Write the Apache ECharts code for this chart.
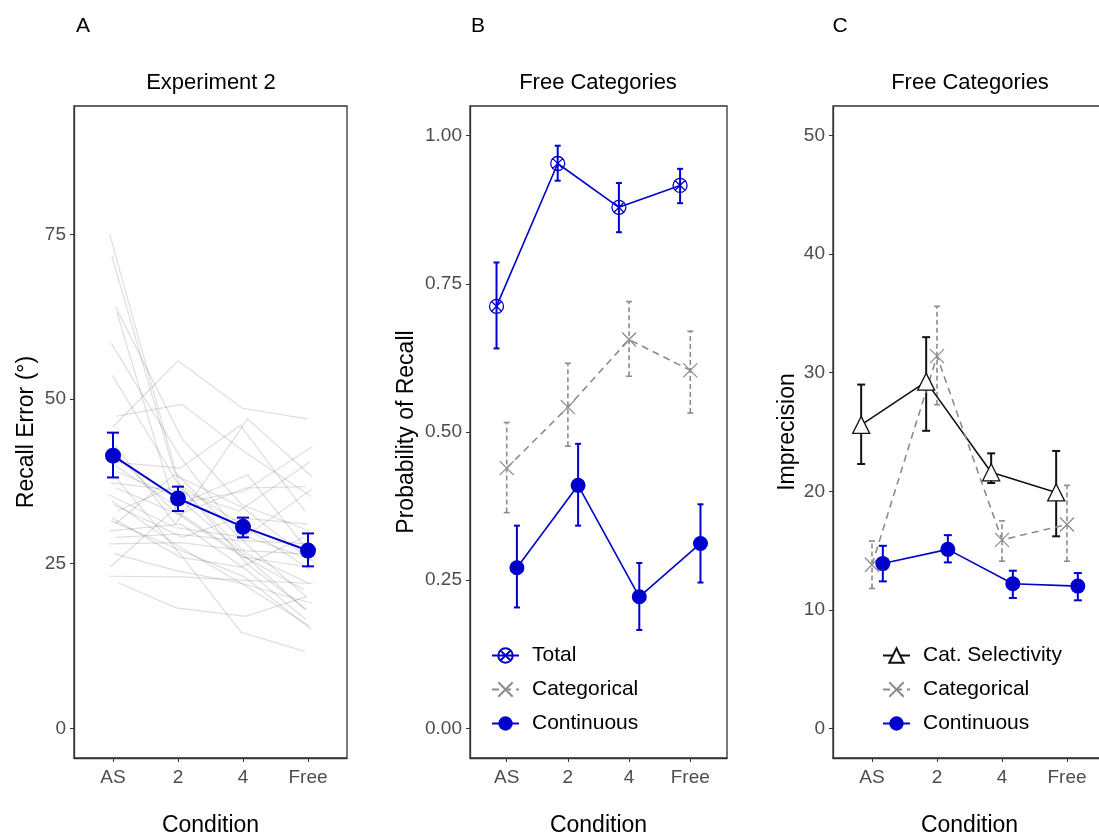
<!DOCTYPE html>
<html>
<head>
<meta charset="utf-8">
<script src="https://cdn.jsdelivr.net/npm/echarts@6.0.0/dist/echarts.min.js"></script>
<style>
  html, body { margin: 0; padding: 0; background: #fff; }
  #chart { width: 1099px; height: 840px; }
</style>
</head>
<body>
<div id="chart"></div>
<script>
  const conditions = ['AS', '2', '4', 'Free']

  // A: recall error per subject (AS, 2, 4, Free)
  const subjectError = [
    [75.0, 37.0, 31.0, 24.0], [71.8, 39.0, 28.0, 20.0], [64.0, 44.0, 34.0, 30.0],
    [63.2, 33.0, 26.0, 21.0], [58.5, 41.0, 29.5, 25.5], [53.6, 37.5, 25.0, 18.0],
    [45.8, 55.8, 48.6, 47.0], [47.4, 49.2, 42.0, 35.2], [43.0, 31.0, 47.0, 38.2],
    [40.5, 39.5, 46.0, 33.0], [40.0, 34.0, 36.0, 42.8], [37.3, 36.0, 33.0, 40.5],
    [36.5, 32.5, 36.5, 36.7], [35.5, 30.5, 29.0, 36.3], [34.0, 29.0, 32.0, 31.0],
    [33.0, 37.0, 26.5, 22.0], [32.0, 26.0, 24.5, 29.0], [31.0, 38.5, 33.5, 25.5],
    [30.0, 31.0, 24.0, 16.5], [29.0, 29.5, 28.5, 28.0], [28.0, 28.2, 27.0, 26.5],
    [26.5, 24.0, 22.0, 19.0], [24.5, 34.0, 38.5, 27.0], [23.1, 23.0, 22.5, 22.0],
    [22.1, 18.3, 17.0, 20.0], [38.0, 26.0, 14.6, 11.7], [34.5, 28.0, 21.5, 15.5],
    [39.0, 35.0, 27.0, 18.0], [31.5, 27.0, 23.0, 15.0], [42.0, 33.0, 26.0, 24.5]
  ]
  // horizontal jitter of each subject point (condition units)
  const subjectJitter = [
    [-0.05, 0.02, -0.03, 0.04], [-0.02, -0.06, 0.05, -0.03], [0.04, 0.06, -0.02, 0.01],
    [0.06, -0.03, 0.03, -0.06], [-0.03, 0.05, -0.05, 0.07], [-0.01, -0.02, 0.06, -0.02],
    [0.00, 0.00, -0.01, -0.01], [0.06, 0.06, 0.02, 0.05], [0.03, -0.04, 0.07, 0.06],
    [-0.06, 0.03, -0.04, -0.05], [0.02, -0.07, 0.01, 0.07], [-0.04, 0.04, -0.06, 0.03],
    [0.05, 0.01, 0.04, -0.04], [-0.07, -0.05, 0.02, 0.06], [0.01, 0.07, -0.07, -0.01],
    [0.07, -0.01, 0.05, 0.02], [-0.02, 0.03, -0.03, -0.07], [0.03, -0.06, 0.00, 0.04],
    [-0.05, 0.05, 0.06, -0.03], [0.04, -0.02, -0.05, 0.05], [-0.06, 0.04, 0.03, -0.06],
    [0.02, -0.04, -0.02, 0.06], [-0.04, 0.02, 0.07, 0.00], [-0.06, 0.06, -0.04, 0.07],
    [0.08, -0.03, 0.04, -0.02], [0.05, 0.07, -0.03, -0.05], [-0.01, -0.05, 0.06, 0.03],
    [0.06, 0.00, -0.06, -0.04], [-0.03, 0.05, 0.02, 0.05], [0.00, -0.07, -0.01, 0.02]
  ]
  const meanError = [41.4, 34.9, 30.6, 27.0]
  const meanErrorLo = [38.1, 33.0, 29.0, 24.6]
  const meanErrorHi = [44.9, 36.7, 32.0, 29.6]

  // B: probability of recall
  const totalRecall = [0.712, 0.953, 0.879, 0.916]
  const totalRecallLo = [0.641, 0.924, 0.837, 0.886]
  const totalRecallHi = [0.786, 0.983, 0.920, 0.944]
  const catRecall = [0.439, 0.542, 0.656, 0.604]
  const catRecallLo = [0.364, 0.476, 0.594, 0.532]
  const catRecallHi = [0.516, 0.616, 0.720, 0.670]
  const contRecall = [0.271, 0.410, 0.222, 0.312]
  const contRecallLo = [0.204, 0.342, 0.166, 0.246]
  const contRecallHi = [0.342, 0.480, 0.279, 0.378]

  // C: imprecision
  const selImprecision = [25.6, 29.25, 21.6, 19.9]
  const selImprecisionLo = [22.3, 25.1, 20.7, 16.2]
  const selImprecisionHi = [29.0, 33.0, 23.2, 23.4]
  const catImprecision = [13.8, 31.4, 15.9, 17.2]
  const catImprecisionLo = [11.8, 27.3, 14.1, 14.1]
  const catImprecisionHi = [15.8, 35.6, 17.5, 20.5]
  const contImprecision = [13.9, 15.1, 12.2, 12.0]
  const contImprecisionLo = [12.4, 14.0, 11.0, 10.8]
  const contImprecisionHi = [15.4, 16.3, 13.3, 13.1]

  const yTicksA = [0, 25, 50, 75]
  const yTicksB = [0, 0.25, 0.5, 0.75, 1]
  const yTicksC = [0, 10, 20, 30, 40, 50]

  const BLUE = '#0000cc'
  const GREY = '#8c8c8c'
  const FONT = 'Liberation Sans, Arial, sans-serif'
  const DODGE = 1 / 6

  const crossCircle = 'path://M5,0A5,5 0 1,1 5,10A5,5 0 1,1 5,0ZM1.5,1.5L8.5,8.5M8.5,1.5L1.5,8.5'
  const cross = 'path://M0,0L10,10M10,0L0,10'

  const xTicks = [1, 2, 3, 4]
  const xAxis = (gridIndex) => ({
    gridIndex,
    type: 'value',
    min: 0.4,
    max: 4.6,
    splitLine: { show: false },
    axisLine: { show: true, onZero: false, lineStyle: { color: '#333', width: 1.3 } },
    axisTick: { customValues: xTicks, length: 4, lineStyle: { color: '#333' } },
    axisLabel: {
      customValues: xTicks,
      formatter: (v) => conditions[Math.round(v) - 1],
      fontSize: 19,
      fontFamily: FONT,
      color: '#4d4d4d',
      margin: 10,
    },
    name: 'Condition',
    nameLocation: 'middle',
    nameGap: 56,
    nameTextStyle: { fontSize: 23, fontFamily: FONT, color: '#000' },
  })
  const yAxis = (gridIndex, min, max, ticks, name, gap, fmt) => ({
    gridIndex,
    type: 'value',
    min,
    max,
    splitLine: { show: false },
    axisLine: { show: true, onZero: false, lineStyle: { color: '#333', width: 1.3 } },
    axisTick: { customValues: ticks, length: 4, lineStyle: { color: '#333' } },
    axisLabel: {
      customValues: ticks,
      formatter: fmt,
      fontSize: 19,
      fontFamily: FONT,
      color: '#4d4d4d',
      margin: 8,
    },
    name,
    nameLocation: 'middle',
    nameGap: gap,
    nameTextStyle: { fontSize: 23, fontFamily: FONT, color: '#000' },
  })

  const pts = (ys, off) => ys.map((y, i) => [i + 1 + off, y])

  const errorBars = (idx, ys, lo, hi, off, color, dashed, cap, width) => ({
    type: 'custom',
    name: 'err' + idx + color,
    xAxisIndex: idx,
    yAxisIndex: idx,
    data: ys.map((y, i) => [i + 1 + off, lo[i], hi[i]]),
    encode: { x: 0, y: [1, 2] },
    z: 3,
    silent: true,
    renderItem: (params, api) => {
      const x = api.value(0)
      const a = api.coord([x, api.value(1)])
      const b = api.coord([x, api.value(2)])
      const style = { stroke: color, lineWidth: width, lineDash: dashed ? [5, 3] : null }
      return {
        type: 'group',
        children: [
          { type: 'line', shape: { x1: a[0], y1: a[1], x2: b[0], y2: b[1] }, style },
          { type: 'line', shape: { x1: a[0] - cap, y1: a[1], x2: a[0] + cap, y2: a[1] }, style: { stroke: color, lineWidth: width } },
          { type: 'line', shape: { x1: b[0] - cap, y1: b[1], x2: b[0] + cap, y2: b[1] }, style: { stroke: color, lineWidth: width } },
        ],
      }
    },
  })

  const line = (idx, name, ys, off, opts) => ({
    type: 'line',
    name,
    xAxisIndex: idx,
    yAxisIndex: idx,
    data: pts(ys, off),
    symbol: opts.symbol,
    symbolSize: opts.size,
    showSymbol: true,
    lineStyle: { color: opts.color, width: opts.width || 1.6, type: opts.dashed ? [7, 5] : 'solid' },
    itemStyle: opts.item,
    z: 4,
    animation: false,
  })

  const series = [
    {
      type: 'lines',
      name: 'subjects',
      coordinateSystem: 'cartesian2d',
      xAxisIndex: 0,
      yAxisIndex: 0,
      polyline: true,
      silent: true,
      lineStyle: { color: 'rgba(100,100,100,0.42)', width: 1.2 },
      data: subjectError.map((row, s) => ({
        coords: row.map((y, i) => [i + 1 + subjectJitter[s][i], y]),
      })),
      z: 1,
    },
    errorBars(0, meanError, meanErrorLo, meanErrorHi, 0, BLUE, false, 6, 2),
    line(0, 'Mean error', meanError, 0, {
      symbol: 'circle', size: 16, color: BLUE, width: 2, item: { color: BLUE },
    }),

    errorBars(1, totalRecall, totalRecallLo, totalRecallHi, -DODGE, BLUE, false, 3, 2),
    errorBars(1, catRecall, catRecallLo, catRecallHi, 0, GREY, true, 3, 1.6),
    errorBars(1, contRecall, contRecallLo, contRecallHi, DODGE, BLUE, false, 3, 2),
    line(1, 'Total', totalRecall, -DODGE, {
      symbol: crossCircle, size: 14, color: BLUE,
      item: { color: 'rgba(255,255,255,0)', borderColor: BLUE, borderWidth: 1.3 },
    }),
    line(1, 'Categorical', catRecall, 0, {
      symbol: cross, size: 14, color: GREY, dashed: true,
      item: { color: 'rgba(255,255,255,0)', borderColor: GREY, borderWidth: 1.3 },
    }),
    line(1, 'Continuous', contRecall, DODGE, {
      symbol: 'circle', size: 15, color: BLUE, item: { color: BLUE },
    }),

    errorBars(2, selImprecision, selImprecisionLo, selImprecisionHi, -DODGE, '#111', false, 4, 2),
    errorBars(2, catImprecision, catImprecisionLo, catImprecisionHi, 0, GREY, true, 3, 1.6),
    errorBars(2, contImprecision, contImprecisionLo, contImprecisionHi, DODGE, BLUE, false, 4, 2),
    line(2, 'Cat. Selectivity', selImprecision, -DODGE, {
      symbol: 'triangle', size: 17, color: '#111',
      item: { color: '#fff', borderColor: '#111', borderWidth: 1.3 },
    }),
    line(2, 'Categorical', catImprecision, 0, {
      symbol: cross, size: 14, color: GREY, dashed: true,
      item: { color: 'rgba(255,255,255,0)', borderColor: GREY, borderWidth: 1.3 },
    }),
    line(2, 'Continuous', contImprecision, DODGE, {
      symbol: 'circle', size: 15, color: BLUE, item: { color: BLUE },
    }),
  ]

  const legend = (left, names) => ({
    orient: 'vertical',
    left,
    top: 640,
    itemWidth: 27,
    itemHeight: 18,
    itemGap: 13,
    data: names,
    selectedMode: false,
    textStyle: { fontSize: 21, fontFamily: FONT, color: '#000', padding: [0, 0, 0, 8] },
  })

  const label = (x, y, text, size) => ({
    type: 'text',
    x,
    y,
    style: { text, fontSize: size, fontFamily: FONT, fill: '#000', align: 'center', verticalAlign: 'middle' },
  })

  const gridBox = (left, width) => ({
    left, top: 106, width, height: 652,
    outerBoundsMode: 'none',
    containLabel: false,
    show: true, borderColor: '#333', borderWidth: 1.3,
  })

  const options = {
    animation: false,
    backgroundColor: '#fff',
    grid: [gridBox(74, 273), gridBox(470, 257), gridBox(833, 273)],
    xAxis: [xAxis(0), xAxis(1), xAxis(2)],
    yAxis: [
      yAxis(0, -4.5, 94.5, yTicksA, 'Recall Error (°)', 36, (v) => String(v)),
      yAxis(1, -0.05, 1.05, yTicksB, 'Probability of Recall', 52, (v) => v.toFixed(2)),
      yAxis(2, -2.5, 52.5, yTicksC, 'Imprecision', 34, (v) => String(v)),
    ],
    legend: [
      legend(486, ['Total', 'Categorical', 'Continuous']),
      legend(877, ['Cat. Selectivity', 'Categorical', 'Continuous']),
    ],
    graphic: [
      label(83, 26, 'A', 21),
      label(478, 26, 'B', 21),
      label(840, 26, 'C', 21),
      label(211, 83, 'Experiment 2', 22),
      label(598, 83, 'Free Categories', 22),
      label(970, 83, 'Free Categories', 22),
    ],
    series,
  }

  const chart = echarts.init(document.getElementById('chart'))
  chart.setOption(options)
  window.addEventListener('resize', function () {
    chart && chart.resize()
  })
</script>
</body>
</html>
